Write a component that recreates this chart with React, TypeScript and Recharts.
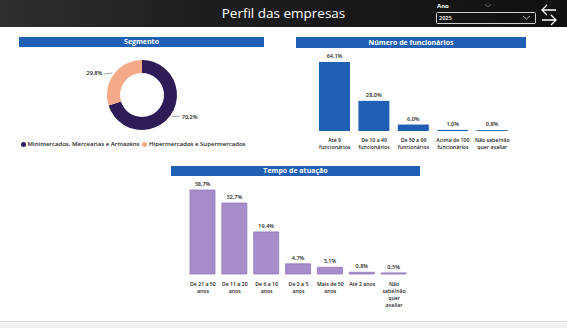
import React from 'react';
import { PieChart, Pie, Cell, Legend, BarChart, Bar, XAxis, YAxis, LabelList } from 'recharts';

const segNames = ['Minimercados, Mercearias e Armazéns', 'Hipermercados e Supermercados'];
const segValues = [70.2, 29.8];
const segColors = ['#2E1C57', '#F4A988'];

const funcCategories = ['Até 9\nfuncionários', 'De 10 a 49\nfuncionários', 'De 50 a 99\nfuncionários', 'Acima de 100\nfuncionários', 'Não sabe/não\nquer avaliar'];
const funcValues = [64.1, 28.0, 6.0, 1.0, 0.8];

const tempoCategories = ['De 21 a 50\nanos', 'De 11 a 20\nanos', 'De 6 a 10\nanos', 'De 2 a 5\nanos', 'Mais de 50\nanos', 'Até 2 anos', 'Não\nsabe/não\nquer\navaliar'];
const tempoValues = [38.7, 32.7, 19.4, 4.7, 3.1, 0.8, 0.5];

const FONT = '"Open Sans", "Noto Sans", sans-serif';
const TEXT = '#252423';
const BLUE = '#1F5FB4';

const segData = segNames.map((name, i) => ({ name, value: segValues[i], color: segColors[i] }));
const funcData = funcCategories.map((cat, i) => ({ cat, value: funcValues[i] }));
const tempoData = tempoCategories.map((cat, i) => ({ cat, value: tempoValues[i] }));

const fmt = (v: any) => Number(v).toFixed(1).replace('.', ',') + '%';

const MultiTick = (props: any) => {
  const { x, y, payload, first } = props;
  const lines = String(payload.value).split('\n');
  return (
    <text x={x} y={y} textAnchor="middle" fontSize={5.2} fontFamily={FONT} fontWeight={600} fill={TEXT}>
      {lines.map((l: string, i: number) => (
        <tspan key={i} x={x} dy={i === 0 ? first : 7.3}>{l}</tspan>
      ))}
    </text>
  );
};

const pieLabel = (props: any) => {
  const { cx, cy, midAngle, outerRadius, value } = props;
  const rad = Math.PI / 180;
  const cos = Math.cos(-midAngle * rad);
  const sin = Math.sin(-midAngle * rad);
  const sx = cx + (outerRadius + 2) * cos;
  const sy = cy + (outerRadius + 2) * sin;
  const dir = cos >= 0 ? 1 : -1;
  const ex = sx + dir * 8;
  return (
    <g>
      <path d={`M${sx},${sy} L${ex},${sy - dir * 1}`} stroke="#8a8a8a" strokeWidth={0.8} fill="none" />
      <text x={ex + dir * 2} y={sy} textAnchor={dir > 0 ? 'start' : 'end'} dominantBaseline="central" fontSize={5.5} fontFamily={FONT} fontWeight={600} fill={TEXT}>
        {fmt(value)}
      </text>
    </g>
  );
};

const SegLegend = () => (
  <div style={{ display: 'flex', alignItems: 'center', fontFamily: FONT, fontSize: 6, fontWeight: 600, color: TEXT, whiteSpace: 'nowrap' }}>
    {segData.map((d, i) => (
      <div key={i} style={{ display: 'flex', alignItems: 'center', marginRight: 3 }}>
        <span style={{ width: 5, height: 5, borderRadius: '50%', background: d.color, display: 'inline-block', marginRight: 1.5 }} />
        <span>{d.name}</span>
      </div>
    ))}
  </div>
);

const Header = ({ left, top, width, height, text }: any) => (
  <div style={{ position: 'absolute', left, top, width, height, background: BLUE, color: '#fff', fontFamily: FONT, fontSize: 7, fontWeight: 700, textAlign: 'center', lineHeight: height + 'px' }}>
    {text}
  </div>
);

const labelStyle = { fontSize: 5.5, fontFamily: FONT, fontWeight: 600, fill: TEXT };

export default function App() {
  return (
    <div style={{ position: 'fixed', left: 0, top: 0, width: 567, height: 328, background: '#fff', overflow: 'hidden' }}>
      {/* top bar */}
      <div style={{ position: 'absolute', left: 0, top: 0, width: 567, height: 27, background: 'linear-gradient(90deg, #2f2f2f 0%, #1e1e1e 35%, #101010 100%)' }} />
      <div style={{ position: 'absolute', left: 0, top: 0, width: 567, height: 27, color: '#fff', fontFamily: FONT, fontSize: 13.5, textAlign: 'center', lineHeight: '26px', paddingRight: 2 }}>
        Perfil das empresas
      </div>
      <div style={{ position: 'absolute', left: 437, top: 2, color: '#fff', fontFamily: FONT, fontSize: 6, fontWeight: 700 }}>Ano</div>
      <svg style={{ position: 'absolute', left: 484, top: 3 }} width={8} height={6}>
        <path d="M1,1.5 L4,4 L7,1.5" stroke="#777" strokeWidth={0.8} fill="none" />
      </svg>
      <div style={{ position: 'absolute', left: 436, top: 12, width: 96, height: 10, border: '1px solid #d0d0d0', borderRadius: 1.5, color: '#fff', fontFamily: FONT, fontSize: 5.5, fontWeight: 600, lineHeight: '10px', paddingLeft: 2, boxSizing: 'content-box' }}>
        2025
      </div>
      <svg style={{ position: 'absolute', left: 522, top: 14 }} width={9} height={7}>
        <path d="M1,2 L4.5,5 L8,2" stroke="#ddd" strokeWidth={0.8} fill="none" />
      </svg>
      <svg style={{ position: 'absolute', left: 540, top: 2 }} width={18} height={24}>
        <path d="M16,8 L2,8 M7,3 L2,8 L7,13" stroke="#fff" strokeWidth={1.3} fill="none" />
        <path d="M2,18 L16,18 M11,13 L16,18 L11,23" stroke="#fff" strokeWidth={1.3} fill="none" />
      </svg>

      {/* Segmento */}
      <Header left={19} top={37} width={245} height={10} text="Segmento" />
      <div style={{ position: 'absolute', left: 0, top: 48 }}>
        <PieChart width={290} height={104} margin={{ top: 0, right: 0, bottom: 0, left: 0 }}>
          <Pie
            data={segData}
            dataKey="value"
            nameKey="name"
            cx={142}
            cy={47}
            innerRadius={22}
            outerRadius={35}
            startAngle={90}
            endAngle={-270}
            stroke="none"
            label={pieLabel}
            labelLine={false}
            isAnimationActive={false}
          >
            {segData.map((d, i) => <Cell key={i} fill={d.color} />)}
          </Pie>
          <Legend content={<SegLegend />} verticalAlign="bottom" wrapperStyle={{ left: 21, bottom: 4, width: 260 }} />
        </PieChart>
      </div>

      {/* Número de funcionários */}
      <Header left={296} top={37} width={230} height={11} text="Número de funcionários" />
      <div style={{ position: 'absolute', left: 295, top: 50 }}>
        <BarChart width={232} height={110} data={funcData} margin={{ top: 12, right: 15, bottom: 0, left: 20 }}>
          <XAxis dataKey="cat" axisLine={false} tickLine={false} tickSize={0} tickMargin={0} height={29} interval={0} tick={<MultiTick first={10.5} />} />
          <YAxis hide domain={[0, 'dataMax']} />
          <Bar dataKey="value" fill={BLUE} barSize={31} isAnimationActive={false}>
            <LabelList dataKey="value" position="top" offset={4} formatter={fmt} style={labelStyle} />
          </Bar>
        </BarChart>
      </div>

      {/* Tempo de atuação */}
      <Header left={171} top={166} width={249} height={10} text="Tempo de atuação" />
      <div style={{ position: 'absolute', left: 170, top: 178 }}>
        <BarChart width={250} height={140} data={tempoData} margin={{ top: 12, right: 10, bottom: 0, left: 17 }}>
          <XAxis dataKey="cat" axisLine={false} tickLine={false} tickSize={0} tickMargin={0} height={44} interval={0} tick={<MultiTick first={11.5} />} />
          <YAxis hide domain={[0, 'dataMax']} />
          <Bar dataKey="value" fill="#A68CC8" stroke="#9278BC" strokeWidth={0.8} barSize={25} isAnimationActive={false}>
            <LabelList dataKey="value" position="top" offset={4} formatter={fmt} style={labelStyle} />
          </Bar>
        </BarChart>
      </div>

      {/* bottom strip */}
      <div style={{ position: 'absolute', left: 0, top: 321, width: 567, height: 7, background: '#F2F2F2', borderTop: '1px solid #DADADA' }} />
    </div>
  );
}
